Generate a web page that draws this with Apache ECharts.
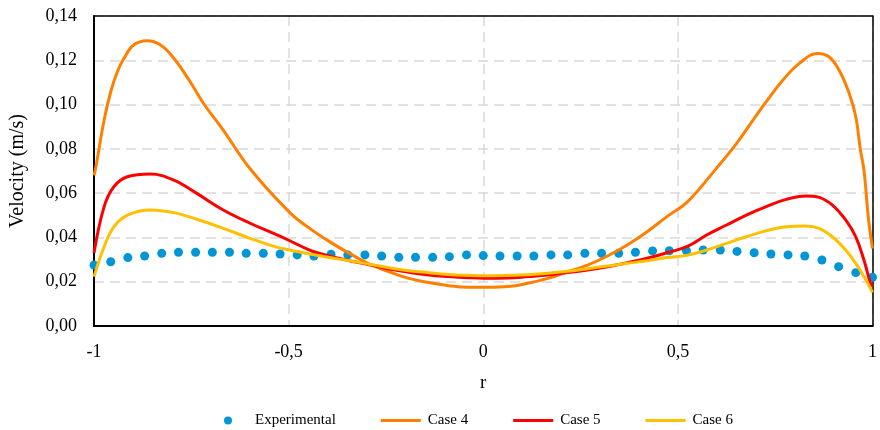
<!DOCTYPE html>
<html>
<head>
<meta charset="utf-8">
<script src="https://cdn.jsdelivr.net/npm/echarts@6/dist/echarts.min.js"></script>
<style>html,body{margin:0;padding:0;background:#fff}#c{width:880px;height:430px}</style>
</head>
<body>
<div id="c"></div>
<script>
var xTicks = [-1, -0.5, 0, 0.5, 1];
var yTicks = [0, 0.02, 0.04, 0.06, 0.08, 0.10, 0.12, 0.14];

var expR = [-1, -0.957, -0.913, -0.870, -0.826, -0.783, -0.739, -0.696, -0.652, -0.609, -0.565, -0.522, -0.478, -0.435, -0.391, -0.348, -0.304, -0.261, -0.217, -0.174, -0.130, -0.087, -0.043, 0, 0.043, 0.087, 0.130, 0.174, 0.217, 0.261, 0.304, 0.348, 0.391, 0.435, 0.478, 0.522, 0.565, 0.609, 0.652, 0.696, 0.739, 0.783, 0.826, 0.870, 0.913, 0.957, 1];
var expV = [0.0275, 0.0290, 0.0309, 0.0316, 0.0328, 0.0333, 0.0333, 0.0333, 0.0333, 0.0328, 0.0328, 0.0325, 0.0321, 0.0316, 0.0324, 0.0321, 0.0321, 0.0316, 0.0310, 0.0310, 0.0310, 0.0313, 0.0321, 0.0318, 0.0316, 0.0316, 0.0316, 0.0321, 0.0321, 0.0328, 0.0328, 0.0328, 0.0333, 0.0339, 0.0340, 0.0340, 0.0343, 0.0343, 0.0337, 0.0331, 0.0325, 0.0321, 0.0316, 0.0298, 0.0268, 0.0241, 0.0220];

var case4R = [-1, -0.995, -0.974, -0.957, -0.940, -0.923, -0.898, -0.864, -0.829, -0.795, -0.753, -0.719, -0.668, -0.599, -0.497, -0.446, -0.395, -0.344, -0.293, -0.242, -0.191, -0.140, -0.089, -0.038, 0.013, 0.064, 0.115, 0.166, 0.217, 0.268, 0.319, 0.370, 0.421, 0.472, 0.523, 0.599, 0.651, 0.693, 0.727, 0.770, 0.812, 0.859, 0.888, 0.914, 0.940, 0.957, 0.969, 0.978, 0.990, 1];
var case4V = [0.068, 0.072, 0.093, 0.1058, 0.1148, 0.1209, 0.1269, 0.1288, 0.1269, 0.1209, 0.1103, 0.1006, 0.0885, 0.0710, 0.0512, 0.0441, 0.0381, 0.0328, 0.0280, 0.0245, 0.0215, 0.0196, 0.0182, 0.0175, 0.0175, 0.0178, 0.0193, 0.0215, 0.0245, 0.0275, 0.0316, 0.0366, 0.0426, 0.0494, 0.0558, 0.0712, 0.0825, 0.0930, 0.1013, 0.1111, 0.1186, 0.1231, 0.1216, 0.1156, 0.1051, 0.0945, 0.0795, 0.0705, 0.0479, 0.035];

var case5R = [-1, -0.974, -0.949, -0.914, -0.855, -0.795, -0.736, -0.668, -0.599, -0.540, -0.497, -0.446, -0.395, -0.344, -0.293, -0.242, -0.191, -0.140, -0.089, -0.038, 0.004, 0.064, 0.115, 0.166, 0.217, 0.268, 0.319, 0.370, 0.421, 0.472, 0.523, 0.574, 0.625, 0.676, 0.727, 0.778, 0.829, 0.863, 0.897, 0.931, 0.957, 0.978, 0.995, 1];
var case5V = [0.033, 0.0539, 0.0629, 0.0674, 0.0686, 0.0659, 0.0599, 0.0524, 0.0464, 0.0419, 0.0385, 0.0343, 0.0316, 0.0295, 0.0277, 0.0257, 0.0243, 0.0230, 0.0223, 0.0218, 0.0216, 0.0217, 0.0223, 0.0230, 0.0241, 0.0253, 0.0268, 0.0286, 0.0306, 0.0331, 0.0358, 0.0411, 0.0456, 0.0501, 0.0539, 0.0572, 0.0587, 0.0581, 0.0546, 0.0479, 0.0403, 0.0298, 0.0193, 0.018];

var case6R = [-1, -0.974, -0.949, -0.914, -0.855, -0.795, -0.736, -0.668, -0.599, -0.540, -0.497, -0.446, -0.395, -0.344, -0.293, -0.242, -0.191, -0.140, -0.089, -0.038, 0.004, 0.064, 0.115, 0.166, 0.217, 0.268, 0.319, 0.370, 0.421, 0.472, 0.523, 0.574, 0.625, 0.676, 0.727, 0.778, 0.829, 0.863, 0.897, 0.931, 0.957, 0.978, 1];
var case6V = [0.0223, 0.0358, 0.0448, 0.0501, 0.0524, 0.0512, 0.0482, 0.0441, 0.0396, 0.0361, 0.0343, 0.0325, 0.0309, 0.0295, 0.0279, 0.0263, 0.0250, 0.0241, 0.0233, 0.0229, 0.0227, 0.0229, 0.0232, 0.0238, 0.0247, 0.0259, 0.0271, 0.0283, 0.0295, 0.0309, 0.0319, 0.0343, 0.0373, 0.0403, 0.0430, 0.0448, 0.0452, 0.0441, 0.0403, 0.0343, 0.0283, 0.0223, 0.0152];

var seriesNames = ['Experimental', 'Case 4', 'Case 5', 'Case 6'];
var seriesColors = ['#0096D6', '#FF8000', '#FF0000', '#FFC000'];

function pairs(r, v) { return r.map(function (x, i) { return [x, v[i]]; }); }
var FONT = 'Liberation Serif';
var LINE_ICON = 'path://M0,0L40,0L40,3L0,3Z';

var chart = echarts.init(document.getElementById('c'), null, { renderer: 'canvas' });
var lineSeries = [[case4R, case4V], [case5R, case5V], [case6R, case6V]].map(function (d, i) {
  return {
    name: seriesNames[i + 1], type: 'line', data: pairs(d[0], d[1]),
    showSymbol: false, symbol: 'none', smooth: 0.4,
    lineStyle: { color: seriesColors[i + 1], width: 3 },
    itemStyle: { color: seriesColors[i + 1] }, z: 3 + i
  };
});
var blackLine = { show: true, onZero: false, lineStyle: { color: '#000', width: 1.5 } };
chart.setOption({
  animation: false,
  backgroundColor: '#fff',
  textStyle: { fontFamily: FONT },
  grid: { left: 93, right: 3, top: 16, bottom: 104 },
  legend: {
    left: 224, top: 413, itemWidth: 40, itemHeight: 8, itemGap: 45, padding: 0,
    textStyle: { fontFamily: FONT, fontSize: 15, color: '#000', padding: [0, 0, 0, 2] },
    data: [
      { name: seriesNames[0], icon: 'circle' },
      { name: seriesNames[1], icon: LINE_ICON },
      { name: seriesNames[2], icon: LINE_ICON },
      { name: seriesNames[3], icon: LINE_ICON }
    ]
  },
  xAxis: [{
    type: 'value', min: xTicks[0], max: xTicks[xTicks.length - 1], interval: 0.5,
    name: 'r', nameLocation: 'middle', nameGap: 48,
    nameTextStyle: { fontFamily: FONT, fontSize: 19, color: '#000' },
    axisLine: { show: true, onZero: false, lineStyle: { color: '#000', width: 2 } },
    axisTick: { show: false },
    axisLabel: { fontFamily: FONT, fontSize: 18, color: '#000', margin: 17,
      formatter: function (v) { return String(v).replace('.', ','); } },
    splitLine: { show: true, lineStyle: { color: '#d9d9d9', width: 1.5, type: [10, 6] } },
    z: 1
  }, {
    type: 'value', position: 'top', min: xTicks[0], max: xTicks[xTicks.length - 1], interval: 0.5,
    axisLine: blackLine, axisTick: { show: false }, axisLabel: { show: false }, splitLine: { show: false }, z: 2
  }],
  yAxis: [{
    type: 'value', min: yTicks[0], max: yTicks[yTicks.length - 1], interval: 0.02,
    name: 'Velocity (m/s)', nameLocation: 'middle', nameGap: 66,
    nameTextStyle: { fontFamily: FONT, fontSize: 20, color: '#000' },
    axisLine: { show: true, onZero: false, lineStyle: { color: '#000', width: 2 } },
    axisTick: { show: false },
    axisLabel: { fontFamily: FONT, fontSize: 18, color: '#000', margin: 17,
      formatter: function (v) { return v.toFixed(2).replace('.', ','); } },
    splitLine: { show: true, lineStyle: { color: '#d9d9d9', width: 1.5, type: [10, 6] } },
    z: 1
  }, {
    type: 'value', position: 'right', min: yTicks[0], max: yTicks[yTicks.length - 1], interval: 0.02,
    axisLine: blackLine, axisTick: { show: false }, axisLabel: { show: false }, splitLine: { show: false }, z: 2
  }],
  series: [{
    name: seriesNames[0], type: 'scatter', data: pairs(expR, expV),
    symbol: 'circle', symbolSize: 9, itemStyle: { color: seriesColors[0], opacity: 1 }, z: 2
  }].concat(lineSeries)
});
</script>
</body>
</html>
